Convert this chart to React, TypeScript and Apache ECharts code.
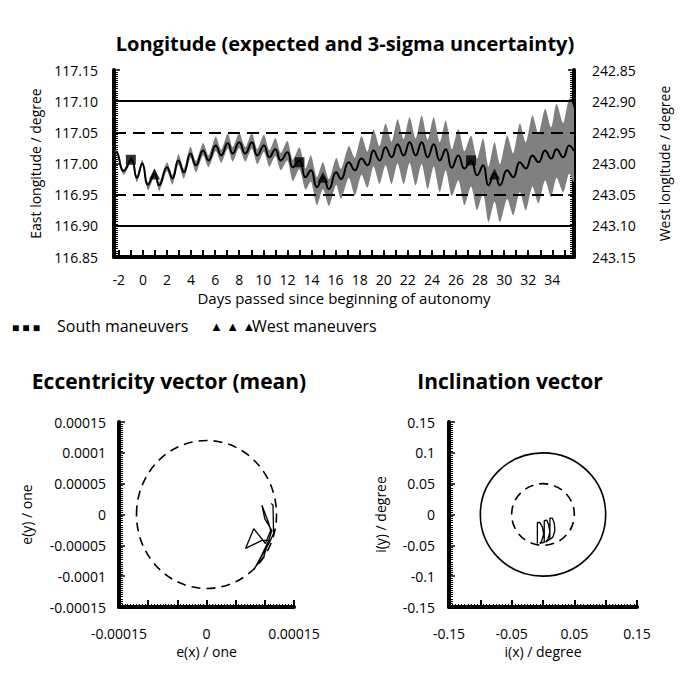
import React, { useEffect, useRef } from "react";
import * as echarts from "echarts";

// ---------- Longitude chart data ----------
const DAYS = [
  -2.4, -2.2, -1.6, -0.95, -0.5, -0.05, 0.42, 0.97, 1.35, 2.0,
  2.45, 2.95, 3.4, 3.95, 4.4, 5.0, 5.45, 6.05, 6.5, 7.05,
  7.45, 8.0, 8.5, 9.05, 9.5, 10.05, 10.5, 11.0, 11.45, 12.0,
  12.45, 13.0, 13.5, 13.95, 14.45, 14.95, 15.45, 16.05, 16.45, 17.1,
  17.6, 18.15, 18.65, 19.15, 19.65, 20.15, 20.65, 21.15, 21.65, 22.15,
  22.65, 23.15, 23.65, 24.15, 24.65, 25.15, 25.65, 26.2, 26.7, 27.25,
  27.75, 28.25, 28.7, 29.2, 29.65, 30.25, 30.75, 31.3, 31.8, 32.35,
  32.85, 33.4, 33.9, 34.35, 34.9, 35.4, 35.8,
];
const MEAN = [
  117.008, 117.018, 116.988, 117.006, 116.977, 117.0, 116.966, 116.984, 116.965, 116.994,
  116.976, 117.005, 116.986, 117.016, 116.997, 117.021, 117.005, 117.029, 117.013, 117.033,
  117.016, 117.034, 117.016, 117.034, 117.013, 117.029, 117.01, 117.023, 117.005, 117.018,
  116.994, 117.005, 116.978, 116.989, 116.962, 116.978, 116.959, 116.986, 116.975, 117.002,
  116.989, 117.008, 116.997, 117.021, 117.005, 117.026, 117.01, 117.031, 117.013, 117.034,
  117.013, 117.034, 117.01, 117.031, 117.005, 117.023, 116.993, 117.013, 116.992, 117.005,
  116.981, 116.997, 116.965, 116.984, 116.965, 116.989, 116.978, 117.002, 116.992, 117.013,
  117.002, 117.021, 117.008, 117.023, 117.01, 117.029, 117.02,
];
const SIGMA_UP = [
  0.004, 0.005, 0.003, 0.006, 0.004, 0.006, 0.004, 0.007, 0.005, 0.008,
  0.006, 0.01, 0.006, 0.011, 0.007, 0.012, 0.008, 0.014, 0.009, 0.015,
  0.01, 0.015, 0.01, 0.015, 0.01, 0.017, 0.011, 0.018, 0.012, 0.018,
  0.012, 0.021, 0.014, 0.024, 0.016, 0.024, 0.016, 0.023, 0.016, 0.026,
  0.02, 0.036, 0.022, 0.034, 0.023, 0.038, 0.025, 0.04, 0.026, 0.04,
  0.027, 0.043, 0.028, 0.043, 0.029, 0.046, 0.03, 0.042, 0.028, 0.04,
  0.027, 0.043, 0.03, 0.05, 0.034, 0.056, 0.038, 0.062, 0.042, 0.064,
  0.046, 0.067, 0.05, 0.073, 0.055, 0.075, 0.068,
];
const SIGMA_DN = [
  0.004, 0.003, 0.006, 0.004, 0.007, 0.004, 0.009, 0.005, 0.009, 0.006,
  0.01, 0.007, 0.01, 0.007, 0.011, 0.008, 0.011, 0.009, 0.012, 0.009,
  0.013, 0.009, 0.013, 0.01, 0.014, 0.01, 0.015, 0.011, 0.016, 0.013,
  0.022, 0.014, 0.02, 0.018, 0.029, 0.019, 0.027, 0.02, 0.032, 0.025,
  0.04, 0.026, 0.036, 0.026, 0.038, 0.029, 0.043, 0.031, 0.046, 0.033,
  0.048, 0.035, 0.051, 0.036, 0.051, 0.034, 0.045, 0.04, 0.059, 0.042,
  0.056, 0.045, 0.059, 0.045, 0.059, 0.046, 0.061, 0.048, 0.067, 0.05,
  0.066, 0.048, 0.062, 0.046, 0.056, 0.045, 0.05,
];
const SOUTH_DAYS = [-1.0, 13.0, 27.25];
const SOUTH_LON = [117.006, 117.002, 117.005];
const WEST_DAYS = [0.97, 14.95, 29.2];
const WEST_LON = [116.983, 116.978, 116.983];
const LIMITS_SOLID = [117.1, 116.9];
const LIMITS_DASHED = [117.05, 116.95];
const DAY_TICKS = [-2, -1, 0, 1, 2, 3, 4, 5, 6, 7, 8, 9, 10, 11, 12, 13, 14, 15, 16, 17, 18, 19, 20, 21, 22, 23, 24, 25, 26, 27, 28, 29, 30, 31, 32, 33, 34, 35];
const DAY_LABELS = [-2, 0, 2, 4, 6, 8, 10, 12, 14, 16, 18, 20, 22, 24, 26, 28, 30, 32, 34];

// ---------- Eccentricity vector data ----------
const ECC_X = [0.000111, 0.000114, 0.000115, 0.000107, 0.000081, 0.000093, 0.000107, 0.000095, 0.000067, 0.000081, 0.000101, 0.00011, 0.000106, 0.000095, 0.0001, 0.000112, 0.000098, 0.000084];
const ECC_Y = [0.000018, 0.000015, -0.000031, -0.000047, -0.00009, -0.000069, -0.000042, -0.000042, -0.000055, -0.000023, -0.000047, -0.000026, -0.000012, 0.000015, -0.000007, -0.000026, -0.000069, -0.000085];
const ECC_CIRCLE_R = [0.00012];
const ECC_LABELS = [-0.00015, 0, 0.00015];

// ---------- Inclination vector data ----------
const INC_X = [-0.009, -0.009, -0.005, -0.001, 0.001, -0.002, -0.005, 0.002, 0.002, 0.006, 0.009, 0.011, 0.008, 0.004, 0.011, 0.011, 0.015, 0.018, 0.019, 0.016, 0.012];
const INC_Y = [-0.047, -0.013, -0.013, -0.02, -0.032, -0.043, -0.047, -0.045, -0.01, -0.009, -0.017, -0.028, -0.04, -0.045, -0.04, -0.006, -0.006, -0.014, -0.026, -0.036, -0.04];
const INC_CIRCLE_R = [0.1, 0.05];
const INC_CIRCLE_DASHED = [false, true];
const INC_LABELS = [-0.15, -0.05, 0.05, 0.15];

const FONT = "'Open Sans', 'Noto Sans', sans-serif";
const BLACK = "#000";

function rulerAxis(extra: any) {
  return {
    axisLine: { show: true, onZero: false, lineStyle: { color: BLACK, width: 4 } },
    axisTick: { show: true, inside: true, length: 6, lineStyle: { color: BLACK, width: 1.5 } },
    minorTick: { show: true, splitNumber: 15, length: 4, lineStyle: { color: BLACK, width: 1 } },
    splitLine: { show: false },
    minorSplitLine: { show: false },
    axisLabel: { color: BLACK, fontSize: 14, fontFamily: FONT },
    nameTextStyle: { color: BLACK, fontSize: 14, fontFamily: FONT },
    nameLocation: "middle",
    ...extra,
  };
}

function circleSeries(xi: number, radii: number[], dashed: boolean[]) {
  return {
    type: "custom",
    xAxisIndex: xi,
    yAxisIndex: xi === 1 ? 2 : 3,
    clip: true,
    silent: true,
    data: radii.map((r, i) => [0, 0, r, dashed[i] ? 1 : 0]),
    renderItem: (params: any, api: any) => {
      const c = api.coord([api.value(0), api.value(1)]);
      const s = api.size([api.value(2), api.value(2)]);
      return {
        type: "ellipse",
        shape: { cx: c[0], cy: c[1], rx: s[0], ry: s[1] },
        style: {
          fill: "none",
          stroke: BLACK,
          lineWidth: 1.6,
          lineDash: api.value(3) ? [9, 6] : null,
        },
      };
    },
  };
}

export default function App() {
  const ref = useRef<HTMLDivElement>(null);
  useEffect(() => {
    if (!ref.current) return;
    const chart = echarts.init(ref.current, null, { renderer: "svg" });
    const meanData = DAYS.map((d, i) => [d, MEAN[i]]);
    const option: any = {
      animation: false,
      backgroundColor: "#fff",
      textStyle: { fontFamily: FONT, color: BLACK },
      grid: [
        { left: 114, top: 70, width: 460, height: 187 },
        { left: 119, top: 422, width: 175, height: 185 },
        { left: 449, top: 422, width: 188, height: 185 },
      ],
      xAxis: [
        rulerAxis({
          gridIndex: 0,
          type: "value",
          min: -2.4,
          max: 35.8,
          name: "Days passed since beginning of autonomy",
          nameGap: 33,
          nameTextStyle: { color: BLACK, fontSize: 15, fontFamily: FONT },
          axisTick: { show: true, inside: true, length: 7, customValues: DAY_TICKS, lineStyle: { color: BLACK, width: 2 } },
          minorTick: { show: false },
          axisLabel: { color: BLACK, fontSize: 14, fontFamily: FONT, margin: 15, customValues: DAY_LABELS },
        }),
        rulerAxis({
          gridIndex: 1,
          type: "value",
          min: -0.00015,
          max: 0.00015,
          interval: 0.00005,
          name: "e(x) / one",
          nameGap: 37,
          axisTick: { show: true, inside: true, length: 7, lineStyle: { color: BLACK, width: 2 } },
          minorTick: { show: true, splitNumber: 10, length: 3, lineStyle: { color: BLACK, width: 1 } },
          axisLabel: { color: BLACK, fontSize: 14, fontFamily: FONT, margin: 19, customValues: ECC_LABELS, formatter: (v: number) => String(+v.toFixed(5)) },
        }),
        rulerAxis({
          gridIndex: 2,
          type: "value",
          min: -0.15,
          max: 0.15,
          interval: 0.05,
          name: "i(x) / degree",
          nameGap: 37,
          axisTick: { show: true, inside: true, length: 7, lineStyle: { color: BLACK, width: 2 } },
          minorTick: { show: true, splitNumber: 10, length: 3, lineStyle: { color: BLACK, width: 1 } },
          axisLabel: { color: BLACK, fontSize: 14, fontFamily: FONT, margin: 19, customValues: INC_LABELS, formatter: (v: number) => String(+v.toFixed(2)) },
        }),
      ],
      yAxis: [
        rulerAxis({
          gridIndex: 0,
          type: "value",
          min: 116.85,
          max: 117.15,
          interval: 0.05,
          name: "East longitude / degree",
          nameGap: 72,
          axisLabel: { color: BLACK, fontSize: 14, fontFamily: FONT, margin: 16, formatter: (v: number) => v.toFixed(2) },
        }),
        rulerAxis({
          gridIndex: 0,
          type: "value",
          position: "right",
          inverse: true,
          min: 242.85,
          max: 243.15,
          interval: 0.05,
          name: "West longitude / degree",
          nameGap: 83,
          nameRotate: 90,
          axisLabel: { color: BLACK, fontSize: 14, fontFamily: FONT, margin: 18, formatter: (v: number) => v.toFixed(2) },
        }),
        rulerAxis({
          gridIndex: 1,
          type: "value",
          min: -0.00015,
          max: 0.00015,
          interval: 0.00005,
          name: "e(y) / one",
          nameGap: 86,
          axisLabel: { color: BLACK, fontSize: 14, fontFamily: FONT, margin: 13, formatter: (v: number) => String(+v.toFixed(5)) },
        }),
        rulerAxis({
          gridIndex: 2,
          type: "value",
          min: -0.15,
          max: 0.15,
          interval: 0.05,
          name: "i(y) / degree",
          nameGap: 62,
          axisLabel: { color: BLACK, fontSize: 14, fontFamily: FONT, margin: 14, formatter: (v: number) => String(+v.toFixed(2)) },
        }),
      ],
      series: [
        {
          name: "3-sigma band",
          type: "custom",
          xAxisIndex: 0,
          yAxisIndex: 0,
          clip: true,
          silent: true,
          z: 1,
          data: [[DAYS[0], MEAN[0]]],
          renderItem: (params: any, api: any) => {
            if (params.dataIndex !== 0) return null;
            const upper = DAYS.map((d, i) => api.coord([d, MEAN[i] + SIGMA_UP[i]]));
            const lower = DAYS.map((d, i) => api.coord([d, MEAN[i] - SIGMA_DN[i]])).reverse();
            return {
              type: "polygon",
              shape: { points: upper.concat(lower), smooth: 0.25 },
              style: { fill: "#808080", stroke: "none" },
            };
          },
        },
        {
          name: "Expected longitude",
          type: "line",
          xAxisIndex: 0,
          yAxisIndex: 0,
          z: 3,
          data: meanData,
          smooth: 0.5,
          symbol: "none",
          lineStyle: { color: BLACK, width: 2 },
          markLine: {
            silent: true,
            symbol: "none",
            label: { show: false },
            data: [
              ...LIMITS_SOLID.map((v) => ({ yAxis: v, lineStyle: { color: BLACK, width: 2.2, type: "solid" } })),
              ...LIMITS_DASHED.map((v) => ({ yAxis: v, lineStyle: { color: BLACK, width: 2.2, type: [12, 7] } })),
            ],
          },
        },
        {
          name: "South maneuvers",
          type: "scatter",
          xAxisIndex: 0,
          yAxisIndex: 0,
          z: 4,
          symbol: "rect",
          symbolSize: 10,
          itemStyle: { color: BLACK },
          data: SOUTH_DAYS.map((d, i) => [d, SOUTH_LON[i]]),
        },
        {
          name: "West maneuvers",
          type: "scatter",
          xAxisIndex: 0,
          yAxisIndex: 0,
          z: 4,
          symbol: "triangle",
          symbolSize: 11,
          itemStyle: { color: BLACK },
          data: WEST_DAYS.map((d, i) => [d, WEST_LON[i]]),
        },
        circleSeries(1, ECC_CIRCLE_R, [true]),
        {
          name: "Eccentricity vector",
          type: "line",
          xAxisIndex: 1,
          yAxisIndex: 2,
          symbol: "none",
          lineStyle: { color: BLACK, width: 1.3 },
          data: ECC_X.map((x, i) => [x, ECC_Y[i]]),
        },
        circleSeries(2, INC_CIRCLE_R, INC_CIRCLE_DASHED),
        {
          name: "Inclination vector",
          type: "line",
          xAxisIndex: 2,
          yAxisIndex: 3,
          symbol: "none",
          lineStyle: { color: BLACK, width: 1.3 },
          data: INC_X.map((x, i) => [x, INC_Y[i]]),
        },
      ],
      graphic: [
        { type: "text", x: 345, y: 43, style: { text: "Longitude (expected and 3-sigma uncertainty)", font: `bold 20px ${FONT}`, fill: BLACK, align: "center", verticalAlign: "middle" } },
        { type: "text", x: 169, y: 381, style: { text: "Eccentricity vector (mean)", font: `bold 21px ${FONT}`, fill: BLACK, align: "center", verticalAlign: "middle" } },
        { type: "text", x: 510, y: 381, style: { text: "Inclination vector", font: `bold 21px ${FONT}`, fill: BLACK, align: "center", verticalAlign: "middle" } },
        { type: "text", x: 12, y: 327, style: { text: "■ ■ ■", font: `12px ${FONT}`, fill: BLACK, align: "left", verticalAlign: "middle" } },
        { type: "text", x: 57, y: 326, style: { text: "South maneuvers", font: `16px ${FONT}`, fill: BLACK, align: "left", verticalAlign: "middle" } },
        { type: "text", x: 210, y: 326, style: { text: "▲ ▲ ▲", font: `13px ${FONT}`, fill: BLACK, align: "left", verticalAlign: "middle" } },
        { type: "text", x: 252, y: 326, style: { text: "West maneuvers", font: `16px ${FONT}`, fill: BLACK, align: "left", verticalAlign: "middle" } },
      ],
    };
    chart.setOption(option);
    return () => chart.dispose();
  }, []);
  return <div ref={ref} style={{ position: "fixed", left: 0, top: 0, width: 691, height: 677, background: "#fff" }} />;
}
